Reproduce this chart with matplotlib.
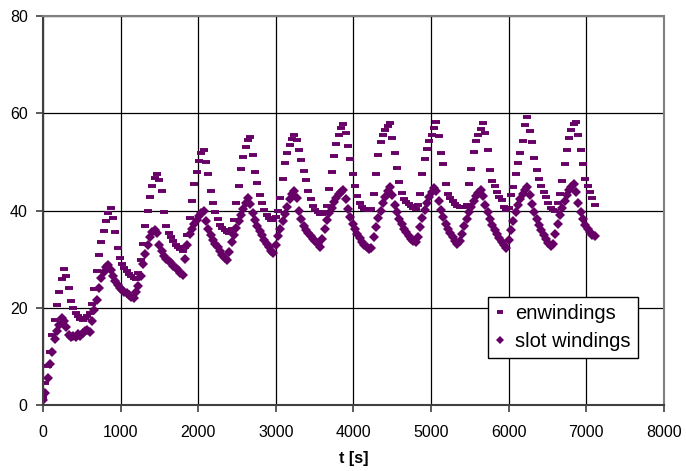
import numpy as np
import matplotlib
matplotlib.use("Agg")
from matplotlib import pyplot as plt

plt.rcParams['font.family'] = ['Liberation Sans', 'DejaVu Sans']

# sample times [s], one reading every 30 s
t = np.arange(0, 7140, 30)

# end windings temperature rise (dash markers)
enwindings = [
    1.5, 4.5, 8, 11, 14.5, 17.5, 20.5, 23.2, 26, 28,
    26.5, 24, 21.5, 20, 19, 18.3, 17.6, 17.5, 17.9, 18.4,
    18.9, 20.8, 23.8, 27.5, 30.8, 33.5, 35.8, 37.8, 39.4, 40.5,
    38.5, 35.5, 32.3, 30.2, 29, 28.2, 27.6, 27, 26.5, 26.1,
    25.9, 27.2, 29.8, 33.2, 36.8, 40, 42.7, 45, 46.6, 47.5,
    46.2, 44, 39.8, 36.8, 35.4, 34.5, 33.7, 33, 32.4, 32,
    31.7, 32.5, 35, 38.5, 42, 45.5, 48, 50.2, 51.8, 52.4,
    50, 47.6, 44, 41.5, 39.7, 38.2, 37.1, 36.4, 35.9, 35.5,
    35.3, 36.2, 38, 41.5, 45, 48.5, 51, 53, 54.6, 55.2,
    51.5, 48, 45.6, 43.2, 41.5, 40.2, 39, 38.4, 38.1, 38,
    38.6, 40, 42.5, 46.5, 49.8, 51.8, 53.4, 54.8, 55.5, 54.5,
    52.4, 50.4, 48.2, 46.3, 44, 42.3, 41, 40.2, 39.6, 39.3,
    39.2, 39.6, 41, 44.5, 48, 51.2, 53.6, 55.6, 57, 57.7,
    56, 53.3, 50.5, 47.6, 45, 43, 41.6, 40.8, 40.4, 40.2,
    40.1, 40.3, 43.5, 47.5, 51.5, 54, 55.5, 56.6, 57.4, 57.9,
    55, 51.8, 48.8, 45.8, 43.6, 42.3, 41.7, 41.3, 40.9, 40.6,
    40.4, 41.2, 43.5, 47.5, 50.5, 52.6, 54.2, 55.6, 57, 58.3,
    55.3, 51.8, 49.5, 45.5, 43.5, 42.6, 41.9, 41.3, 41, 40.8,
    40.7, 40.8, 41.2, 45.5, 48.5, 52, 54.2, 55.5, 56.8, 57.9,
    56, 52.5, 48.3, 46, 45, 43.8, 42.8, 42.2, 40.8, 40.2,
    40.6, 43.2, 44.9, 47.5, 49.8, 51.9, 54.3, 57.5, 59.2, 56.3,
    54, 50.8, 48.3, 46.4, 45, 43.9, 42.8, 41.6, 40.6, 40.1,
    39.9, 41.5, 43.5, 46, 49.5, 52.4, 55, 56.6, 57.8, 58.2,
    55.6, 52.4, 49.5, 46.5, 45, 43.8, 42.6, 41.2,
]

# slot windings temperature rise (diamond markers)
slot_windings = [
    1.0, 2.5, 5.5, 8.5, 11, 13.5, 15.2, 16.5, 17.8, 17.2,
    16, 14.5, 14, 14.3, 14.0, 14.6, 14.3, 14.9, 15.2, 15.4,
    15.0, 17.2, 19.5, 21.6, 24, 26.2, 27.4, 28.3, 28.8, 27.8,
    26.5, 25.5, 24.6, 24.1, 23.6, 23.3, 23.0, 22.6, 22.2, 22.0,
    23.2, 24.5, 26.5, 29, 31, 33, 34.5, 35.5, 36, 35.4,
    33, 31.6, 30.7, 30.1, 29.6, 29.2, 28.6, 28.2, 27.7, 27.2,
    26.8, 30, 33, 35.2, 36.3, 37.2, 38, 38.8, 39.5, 40,
    37.8, 36.2, 35, 34, 33.2, 32.4, 31.6, 30.9, 30.3, 29.8,
    31.5, 33.5, 35, 36.5, 37.8, 39, 40.3, 41.5, 42.5, 41.3,
    39.5, 38, 36.8, 35.8, 34.9, 34, 33.2, 32.4, 31.7, 31.2,
    33, 34.8, 36.3, 37.8, 39.3, 40.8, 42.3, 43.3, 44, 42.5,
    40, 38.3, 36.8, 35.9, 35.3, 34.8, 34.2, 33.7, 33.2, 32.6,
    34.2, 36.2, 38, 39.4, 40.6, 41.7, 42.6, 43.3, 43.9, 44.2,
    42.3, 40.3, 38.7, 37.3, 36.2, 35.2, 34.3, 33.6, 33, 32.4,
    32, 32.3, 34.5, 36.6, 38.4, 40, 41.5, 42.8, 44, 44.8,
    43.2, 41.2, 39.6, 38.3, 37.2, 36.3, 35.5, 34.8, 34.2, 33.8,
    33.5, 34.5, 36.6, 38.5, 40.2, 41.6, 42.8, 43.8, 44.6, 44.0,
    42, 40.2, 38.6, 37.3, 36.2, 35.3, 34.5, 33.8, 33.2, 33.8,
    35.2, 36.8, 38.3, 39.6, 40.8, 41.9, 42.9, 43.7, 44.2, 43,
    41.2, 39.6, 38.2, 37, 36, 35.1, 34.3, 33.6, 32.9, 32.3,
    34, 36, 37.9, 39.6, 41.1, 42.4, 43.5, 44.3, 44.8, 43.2,
    41.3, 39.7, 38.3, 37.1, 36, 35, 34.1, 33.3, 32.7, 33.2,
    35.2, 37.2, 39, 40.6, 42, 43.2, 44.2, 44.9, 45.4, 43.8,
    41.5, 39.6, 38.2, 37.1, 36.2, 35.5, 35, 34.8,
]

color = '#660066'

fig = plt.figure(figsize=(6.86, 4.71), dpi=100)
ax = fig.add_axes([0.0627, 0.140, 0.905, 0.826])

ax.plot(t, enwindings, linestyle='none', marker='_', markersize=6,
        markeredgewidth=2.8, color=color, label='enwindings')
ax.plot(t, slot_windings, linestyle='none', marker='D', markersize=4.6,
        markeredgewidth=0, color=color, label='slot windings')

ax.set_xlim(0, 8000)
ax.set_ylim(0, 80)
ax.set_xticks(np.arange(0, 8001, 1000))
ax.set_yticks(np.arange(0, 81, 20))
ax.grid(True, color='black', linewidth=0.9)
ax.set_axisbelow(True)

for side in ['top', 'right']:
    ax.spines[side].set_color('#808080')
    ax.spines[side].set_linewidth(1.5)
for side in ['left', 'bottom']:
    ax.spines[side].set_color('#404040')
    ax.spines[side].set_linewidth(1.5)

ax.tick_params(axis='both', direction='out', length=5, width=1.2,
               color='#404040', labelsize=11.5)
ax.tick_params(axis='x', pad=9)
ax.tick_params(axis='y', pad=6)

ax.set_xlabel('t [s]', fontsize=11.5, fontweight='bold', labelpad=8)

leg = ax.legend(loc='lower right', bbox_to_anchor=(0.958, 0.121),
                fontsize=14.5, frameon=True, fancybox=False,
                edgecolor='black', handlelength=0.5, handletextpad=0.5,
                labelspacing=0.45, borderpad=0.35, borderaxespad=0,
                markerscale=0.8)
leg.get_frame().set_linewidth(1.0)
leg.get_frame().set_alpha(1)

fig.savefig('out.png', dpi=100)
